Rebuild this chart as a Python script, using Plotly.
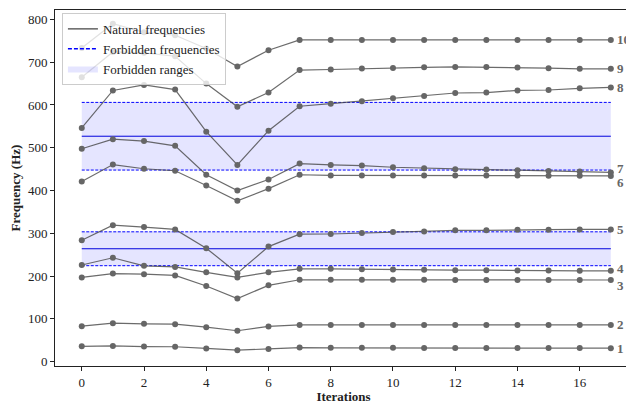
import plotly.graph_objects as go

iterations = list(range(18))

mode1 = [36, 37, 35.5, 35, 31, 27, 30, 33, 32.5, 32.5, 32.5, 32, 32, 32, 32, 32, 31.8, 31.6]
mode2 = [83, 90, 88.6, 87.8, 80.8, 72.4, 82.4, 86, 86, 86, 86, 86, 86, 86, 86, 86, 86, 86]
mode3 = [197, 206, 204.6, 201.6, 177, 147.7, 178.5, 191.5, 191.5, 191.5, 191.3, 191.3, 191.2, 191.2, 191, 191, 191, 191]
mode4 = [226, 243, 224, 221.6, 209, 197, 209, 217, 217, 216, 215.5, 214.7, 214, 214, 213, 213, 212.5, 212.5]
mode5 = [284, 319, 314.6, 309.3, 265.4, 207, 269, 298, 298.5, 300.8, 303, 304.6, 307, 307, 308.5, 308.5, 309.3, 309.3]
mode6 = [421, 460.7, 451, 446.3, 412, 376, 404.5, 437, 435.5, 435.5, 435.3, 435.2, 435, 435, 435, 434.8, 434.5, 434.3]
mode7 = [497.7, 520, 515.6, 504.6, 437, 400, 426, 463, 460, 458.4, 454.5, 452.2, 450, 449, 447.6, 446, 444.6, 442.3]
mode8 = [546.5, 634, 647, 636, 537.6, 460, 540, 597, 603, 609, 616, 621, 628, 629, 634, 635, 639, 641]
mode9 = [665, 724, 722, 714, 650, 596, 629, 681.5, 683, 685, 686.5, 688, 689, 688.5, 687.5, 686, 684.5, 684.5]
mode10 = [733, 790, 770, 763, 732, 690, 728, 752, 752, 752, 752, 752, 752, 752, 752, 752, 752, 752]

modes = [mode1, mode2, mode3, mode4, mode5, mode6, mode7, mode8, mode9, mode10]
mode_labels = ["1", "2", "3", "4", "5", "6", "7", "8", "9", "10"]
label_yshift = [0, 0, -5, 2, 0, -7, 4, 0, 0, 0]

forbidden = [527, 264]
tolerance = 0.15

FONT = "Liberation Serif, Times New Roman, DejaVu Serif, serif"
GRAY = "#666666"
BLUE = "#0000ff"

fig = go.Figure()

# forbidden ranges (bands)
for i, f in enumerate(forbidden):
    lo, hi = f * (1 - tolerance), f * (1 + tolerance)
    x0, x1 = iterations[0], iterations[-1]
    fig.add_trace(go.Scatter(
        x=[x0, x1, x1, x0, x0], y=[lo, lo, hi, hi, lo],
        fill="toself", fillcolor="rgba(0,0,255,0.1)",
        line=dict(width=0), mode="lines", hoverinfo="skip",
        name="Forbidden ranges", showlegend=False))
    for b in (lo, hi):
        fig.add_trace(go.Scatter(
            x=[x0, x1], y=[b, b], mode="lines",
            line=dict(color=BLUE, width=1, dash="3px,1.5px"),
            showlegend=False, hoverinfo="skip"))
    fig.add_trace(go.Scatter(
        x=[x0, x1], y=[f, f], mode="lines",
        line=dict(color="#0000dd", width=1),
        showlegend=False, hoverinfo="skip"))

# natural frequencies
for m in modes:
    fig.add_trace(go.Scatter(
        x=iterations, y=m, mode="lines+markers",
        line=dict(color="rgba(70,70,70,0.8)", width=1.2),
        marker=dict(color=GRAY, size=6),
        showlegend=False))

# legend entries
fig.add_trace(go.Scatter(x=[None], y=[None], mode="lines",
                         line=dict(color="#444444", width=1.2),
                         name="Natural frequencies"))
fig.add_trace(go.Scatter(x=[None], y=[None], mode="lines",
                         line=dict(color=BLUE, width=1.5, dash="4px,2px"),
                         name="Forbidden frequencies"))
fig.add_trace(go.Scatter(x=[None, None, None], y=[None, None, None],
                         fill="toself", fillcolor="rgba(0,0,255,0.1)",
                         line=dict(width=0), mode="lines",
                         name="Forbidden ranges"))

# mode labels at right
for m, lab, ys in zip(modes, mode_labels, label_yshift):
    fig.add_annotation(x=iterations[-1], y=m[-1], text="<b>" + lab + "</b>",
                       showarrow=False, xanchor="left", yanchor="middle",
                       xshift=4, yshift=ys,
                       font=dict(family=FONT, size=13, color=GRAY))

axis_common = dict(showline=True, mirror=True, linecolor="#222222", linewidth=1,
                   ticks="outside", ticklen=4, tickcolor="#222222",
                   showgrid=False, zeroline=False,
                   tickfont=dict(family=FONT, size=13, color="#222222"))

# page body has an 8px margin: figure is sized to fit the 634x412 window
fig.update_layout(
    width=626, height=396,
    margin=dict(l=47, r=1, t=1, b=34),
    paper_bgcolor="white", plot_bgcolor="white",
    font=dict(family=FONT, size=13, color="#222222"),
    xaxis=dict(range=[-0.86, 17.68], tickmode="array",
               tickvals=list(range(0, 17, 2)),
               title=dict(text="<b>Iterations</b>", standoff=4,
                          font=dict(family=FONT, size=13, color="#222222")),
               **axis_common),
    yaxis=dict(range=[-10, 822], tickmode="array",
               tickvals=list(range(0, 801, 100)),
               title=dict(text="<b>Frequency (Hz)</b>", standoff=4,
                          font=dict(family=FONT, size=13, color="#222222")),
               **axis_common),
    legend=dict(x=0.012, y=0.992, xanchor="left", yanchor="top",
                bgcolor="rgba(255,255,255,0.8)", bordercolor="#cccccc",
                borderwidth=1, font=dict(family=FONT, size=13, color="#222222"),
                tracegroupgap=0, itemwidth=30),
    showlegend=True,
)

fig.write_html("out.html")
